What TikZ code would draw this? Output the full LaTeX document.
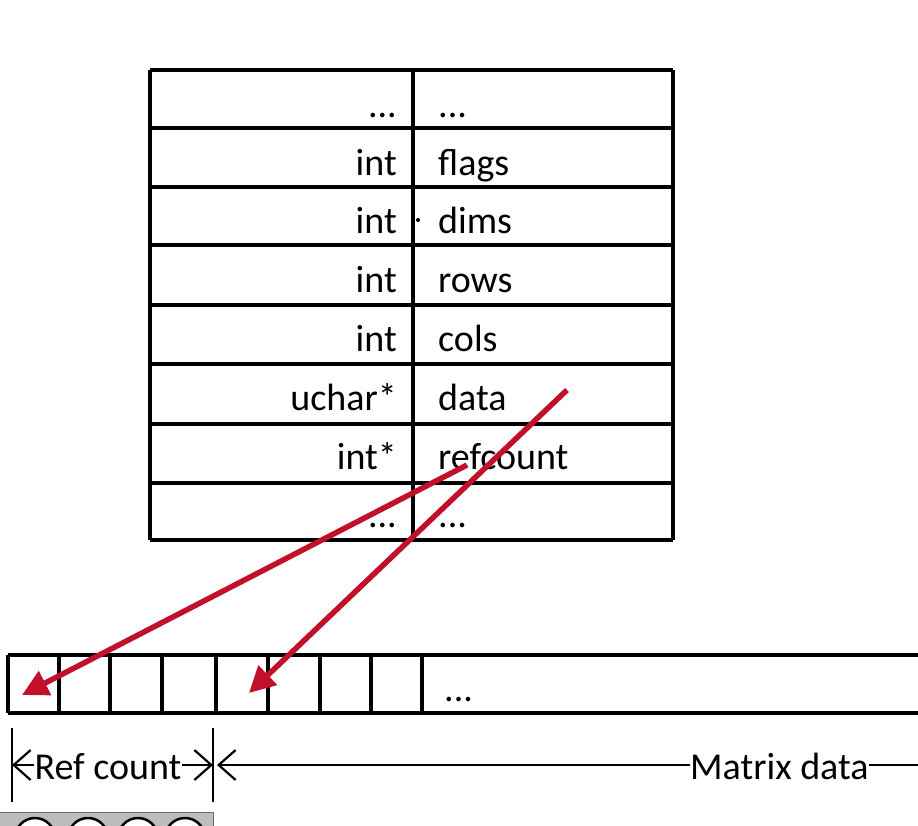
\documentclass[tikz,border=0pt]{standalone}
\usepackage{fontspec}
\setmainfont{Carlito}
\usetikzlibrary{arrows.meta}
\definecolor{ptr}{HTML}{C0102A}
\definecolor{badge}{HTML}{BDBDBD}
\begin{document}
\begin{tikzpicture}[x=1pt,y=-1pt,
  grid/.style={draw=black,line width=3.4pt},
  lbl/.style={font=\fontsize{38}{44}\selectfont,inner sep=0pt},
  ptrarrow/.style={draw=ptr,line width=5.5pt,-{Triangle[length=26pt,width=26pt]}},
  dimline/.style={draw=black,line width=2.2pt},
  tipstart/.style={{Straight Barb[length=17pt,width=30pt,line width=2.2pt]}-},
  tipend/.style={-{Straight Barb[length=17pt,width=30pt,line width=2.2pt]}}]
\useasboundingbox (0,0) rectangle (918,825);
\fill[white] (0,0) rectangle (918,825);
% table
\foreach \y in {70,128,187,245,305,364,424,483,540}
  \draw[grid] (150,\y) -- (673,\y);
\draw[grid] (150,70) -- (150,540);
\draw[grid] (413,70) -- (413,540);
\draw[grid] (673,70) -- (673,540);
% table texts
\node[lbl,anchor=base east] (t1) at (397,117) {...};
\node[lbl,anchor=base west] (n1) at (438,117) {...};
\node[lbl,anchor=base east] (t2) at (397,175) {int};
\node[lbl,anchor=base west] (n2) at (438,175) {flags};
\node[lbl,anchor=base east] (t3) at (397,233) {int};
\node[lbl,anchor=base west] (n3) at (438,233) {dims};
\node[lbl,anchor=base east] (t4) at (397,292) {int};
\node[lbl,anchor=base west] (n4) at (438,292) {rows};
\node[lbl,anchor=base east] (t5) at (397,351) {int};
\node[lbl,anchor=base west] (n5) at (438,351) {cols};
\node[lbl,anchor=base east] (t6) at (397,410) {uchar*};
\node[lbl,anchor=base west] (n6) at (438,410) {data};
\node[lbl,anchor=base east] (t7) at (397,469) {int*};
\node[lbl,anchor=base west] (n7) at (438,469) {refcount};
\node[lbl,anchor=base east] (t8) at (397,527) {...};
\node[lbl,anchor=base west] (n8) at (438,527) {...};
\fill (418,220) circle (2pt);
% memory array
\draw[grid] (8,655) -- (918,655);
\draw[grid] (8,713) -- (918,713);
\foreach \x in {8,59,110,162,216,268,320,371,422}
  \draw[grid] (\x,655) -- (\x,713);
\node[lbl,anchor=base west] (m9) at (444,701) {...};
\coordinate (c1) at (22,695);
\coordinate (c5) at (249,693);
\coordinate (ds) at (567,390);
\coordinate (rs) at (467,465);
% pointers
\draw[ptrarrow] (ds) -- (c5);
\draw[ptrarrow] (rs) -- (c1);
% dimension annotations
\draw[dimline] (12,728) -- (12,802);
\draw[dimline] (213,728) -- (213,802);
\node[lbl,anchor=base] (rc) at (108,779) {Ref count};
\node[lbl,anchor=base west] (md) at (690,779) {Matrix data};
\coordinate (rl) at (12,765);
\coordinate (rr) at (213,765);
\coordinate (ml) at (217,765);
\coordinate (mr) at (918,765);
\draw[dimline,tipstart] (rl) -- (rc.west |- rl);
\draw[dimline,tipend] (rc.east |- rr) -- (rr);
\draw[dimline,tipstart] (ml) -- (md.west |- ml);
\draw[dimline] (md.east |- mr) -- (mr);
% badge
\fill[badge,draw=black!60,line width=1pt] (-2,812) rectangle (213,830);
\foreach \x in {35,88,138,185}
  \draw[black,line width=2.5pt,fill=white] (\x,838) circle (20pt);
\end{tikzpicture}
\end{document}
